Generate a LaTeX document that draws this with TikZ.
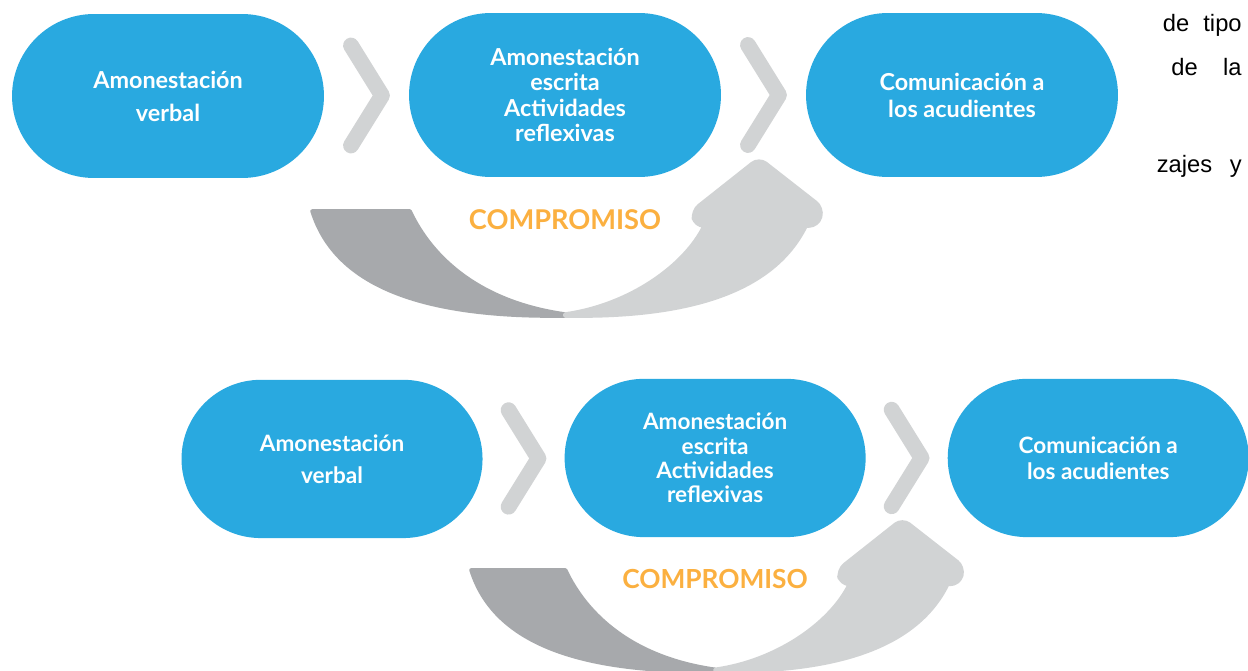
\documentclass[tikz,border=0pt]{standalone}
\usepackage{fontspec}
\setsansfont{Lato}
\newfontfamily\arialfont{Liberation Sans}
\usetikzlibrary{shapes.misc,calc}

\definecolor{pillblue}{HTML}{29A9E0}
\definecolor{chevgray}{HTML}{D1D3D4}
\definecolor{darkarrow}{HTML}{A7A9AC}
\definecolor{lightarrow}{HTML}{D1D3D4}
\definecolor{comporange}{HTML}{FBB040}

\tikzset{
  pill/.style={rounded rectangle, fill=pillblue, text=white, minimum width=6.24cm,
    minimum height=3.28cm, inner sep=0pt, align=center,
    font=\sffamily\bfseries\fontsize{13.3}{14.4}\selectfont},
  chevron/.style={draw=chevgray, line width=9pt, line cap=round, line join=round},
  bodytext/.style={anchor=base east, inner sep=0pt, font=\arialfont\fontsize{13.5}{16}\selectfont}
}

% one row of the diagram, #1 = prefix of the node names
\newcommand{\flowrow}[1]{%
  \node[pill] (#1verbal) at (168,96) {Amonestación\\[4.4pt]verbal};
  \node[pill] (#1escrita) at (565,95) {Amonestación\\escrita\\Actividades\\reflexivas};
  \node[pill] (#1acud) at (962,95) {Comunicación a\\[1pt]los acudientes};
  \draw[chevron] ($(#1verbal.east)!0.5!(#1escrita.west)$) ++(-15.5,-50) -- ++(31,50) -- ++(-31,50);
  \draw[chevron] ($(#1escrita.east)!0.5!(#1acud.west)$) ++(-15.5,-50) -- ++(31,50) -- ++(-31,50);
  % curved arrow below
  \filldraw[darkarrow, line width=2pt, line join=round] (565,316) .. controls (420,318) and (335,285) .. (312,211)
    -- (410,211) .. controls (432,258) and (480,302) .. (565,314) -- cycle;
  \filldraw[lightarrow, line width=2pt, line join=round] (565,314) .. controls (630,305) and (685,265) .. (704,226)
    [rounded corners=5pt] -- (695,226) -- (692,211) -- (759,158) -- (823,208) -- (818,226) [sharp corners]
    -- (806,226) .. controls (772,295) and (682,318) .. (565,316) -- cycle;
  \node[font=\sffamily\bfseries\fontsize{15.5}{18}\selectfont, text=comporange] (#1label) at (565,220) {COMPROMISO};
}

\begin{document}
\begin{tikzpicture}[x=0.02cm, y=-0.02cm]
  \clip (0,0) rectangle (1248,670);
  \fill[white] (0,0) rectangle (1248,670);
  \flowrow{top}
  \begin{scope}[shift={(169.9,366.3)}, scale=0.965, transform shape]
    \flowrow{bot}
  \end{scope}
  % text of the page beside the figure
  \node[bodytext] (tipo) at (1242,31) {de\hspace{8pt}tipo};
  \node[bodytext] (la) at (1242,75) {de\hspace{14.5pt}la};
  \node[bodytext] (zajes) at (1242,172) {zajes\hspace{10pt}y};
\end{tikzpicture}
\end{document}
